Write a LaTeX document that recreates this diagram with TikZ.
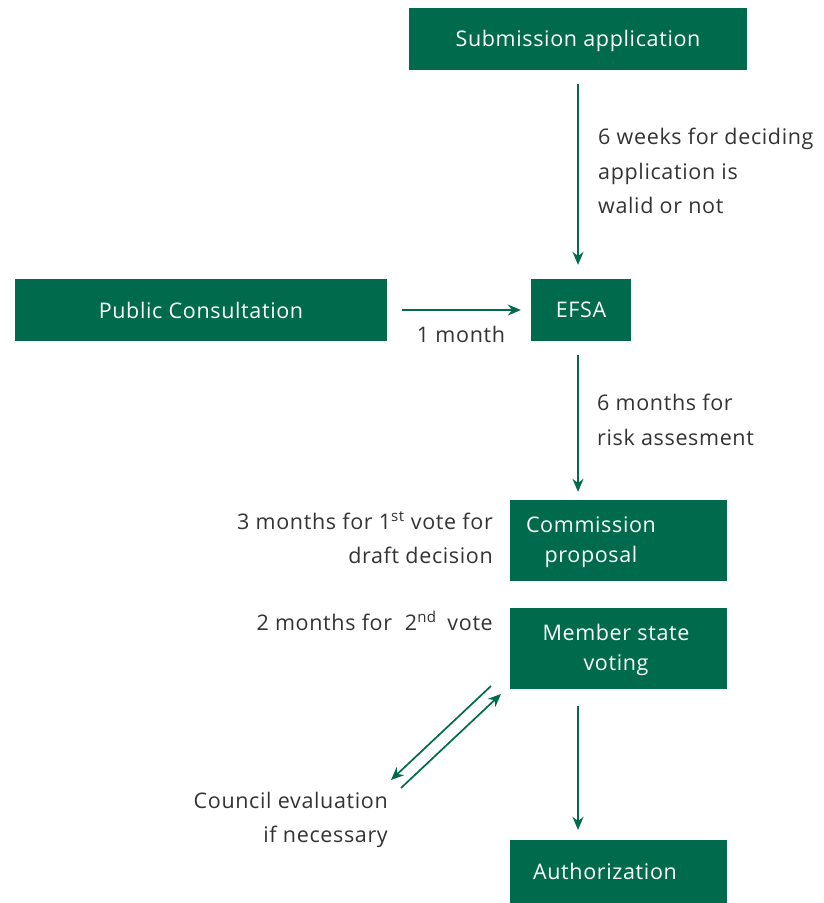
\documentclass[tikz,border=0pt]{standalone}
\usepackage{fontspec}
\setmainfont{Open Sans}[LetterSpace=3]
\usetikzlibrary{arrows.meta}
\definecolor{efgreen}{RGB}{0,107,76}
\definecolor{labgray}{RGB}{51,51,51}
\begin{document}
\begin{tikzpicture}[x=1pt,y=-1pt,
  txt/.style={font=\fontsize{21.5}{34.5}\selectfont},
  btxt/.style={font=\fontsize{21.5}{29.5}\selectfont},
  box/.style={btxt,fill=efgreen,text=white,inner sep=0pt,align=center},
  intext/.style={btxt,text=white,inner sep=0pt,align=center},
  lab/.style={txt,text=labgray,inner sep=0pt},
  arr/.style={draw=efgreen,line width=1.7pt,-{Stealth[length=13pt,width=11pt]}}]
\useasboundingbox[fill=white] (0,0) rectangle (823,903);

% boxes
\node[box,minimum width=338pt,minimum height=62pt] (sub) at (578,39) {};
\node[intext] (subt) at (578,41) {Submission application};
\node[box,minimum width=372pt,minimum height=62pt] (pub) at (201,310) {Public Consultation};
\node[box,minimum width=100pt,minimum height=62pt] (efsa) at (581,310) {EFSA};
\node[box,minimum width=217pt,minimum height=81pt] (comm) at (618.5,540.5) {};
\node[intext] (commt) at (591,542) {Commission\\proposal};
\node[box,minimum width=217pt,minimum height=81pt] (mem) at (618.5,648.5) {};
\node[intext] (memt) at (616,650) {Member state\\voting};
\node[box,minimum width=217pt,minimum height=64pt] (auth) at (618.5,872) {};
\node[intext] (autht) at (605,871) {Authorization};

% labels
\node[lab,anchor=west,align=left] (l1) at (598,171) {6 weeks for deciding\\application is\\walid or not};
\node[lab] (l2) at (461,334) {1 month};
\node[lab,anchor=west,align=left] (l3) at (597,420) {6 months for\\risk assesment};
\node[lab,anchor=east,align=right] (l4) at (493,538) {3 months for 1\textsuperscript{st} vote for\\draft decision};
\node[lab,anchor=east,align=right] (l5) at (493,621) {2 months for\hspace{0.6em}2\textsuperscript{nd}\hspace{0.5em}vote};
\node[lab,anchor=east,align=right] (l6) at (388,820) {Council evaluation\\if necessary};

% connectors
\draw[arr] ([yshift=-14pt]sub.south) -- ([yshift=14pt]sub.south |- efsa.north);
\draw[arr] ([xshift=15pt]pub.east) -- ([xshift=-10pt]efsa.west);
\draw[arr] ([yshift=-14pt]sub.south |- efsa.south) -- ([yshift=8pt]sub.south |- comm.north);
\draw[arr] ([yshift=-17pt]sub.south |- mem.south) -- ([yshift=10pt]sub.south |- auth.north);

\coordinate (a1) at (491,686);
\coordinate (a2) at (391,780);
\coordinate (b1) at (401,788);
\coordinate (b2) at (501,694);
\draw[arr] (a1) -- (a2);
\draw[arr] (b1) -- (b2);
\end{tikzpicture}
\end{document}
